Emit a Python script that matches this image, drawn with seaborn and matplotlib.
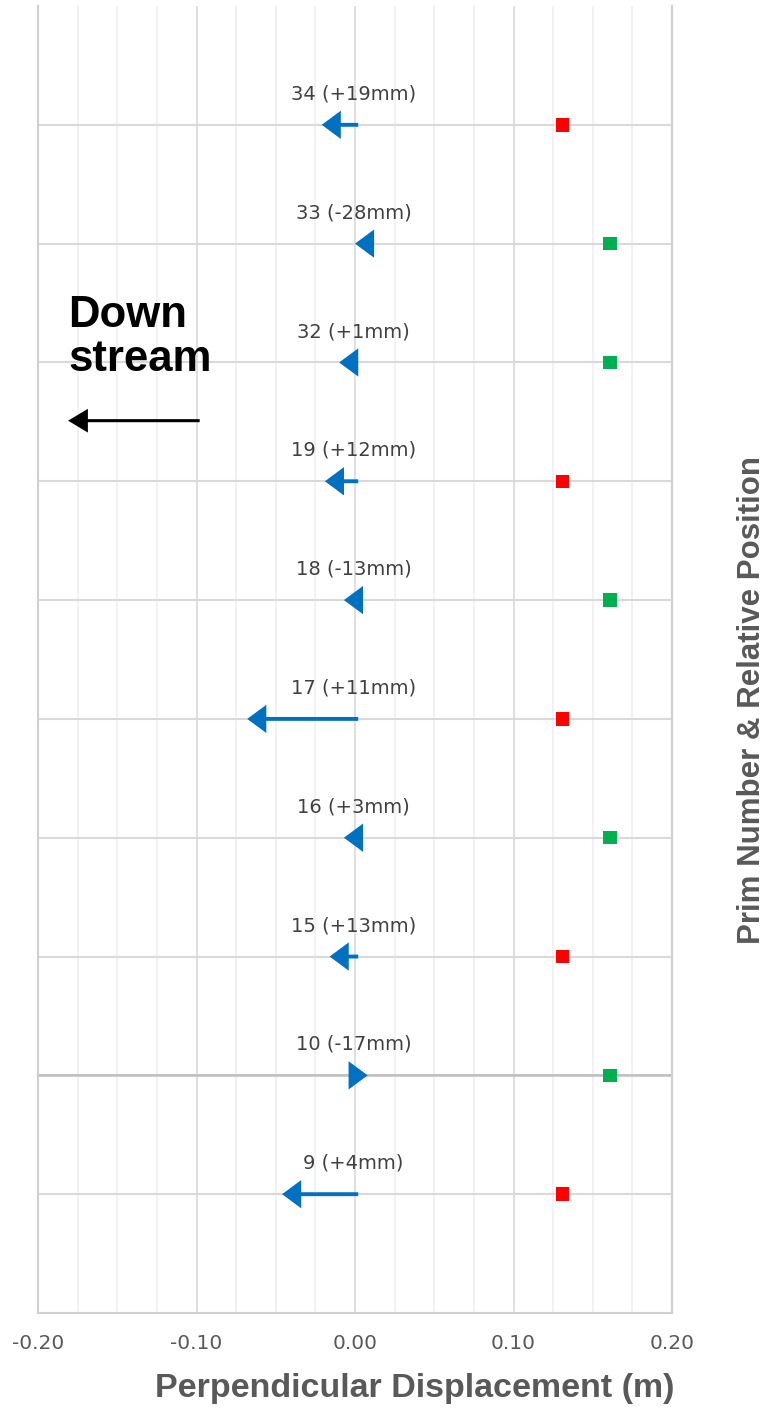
import matplotlib
matplotlib.use("Agg")
import matplotlib.pyplot as plt
from matplotlib.ticker import MultipleLocator
import pandas as pd
import seaborn as sns

# ─── Data ───────────────────────────────────────────────────────────────────
prims = [9, 10, 15, 16, 17, 18, 19, 32, 33, 34]
offsets_mm = ["+4", "-17", "+13", "+3", "+11", "-13", "+12", "+1", "-28", "+19"]
arrow_start = [0.002, -0.003, 0.002, 0.004, 0.002, 0.004, 0.002, 0.001, 0.011, 0.002]
arrow_end = [-0.046, 0.008, -0.016, -0.007, -0.068, -0.007, -0.019, -0.010, 0.000, -0.021]
marker_x = [0.131, 0.161, 0.131, 0.161, 0.131, 0.161, 0.131, 0.161, 0.161, 0.131]
marker_status = ["red", "green", "red", "green", "red", "green", "red", "green", "green", "red"]
x_ticks = [-0.20, -0.10, 0.00, 0.10, 0.20]
axis_cross_row = 2

BLUE = "#0070C0"
palette = {"red": "#FF0000", "green": "#00B050"}

df = pd.DataFrame({
    "prim": prims,
    "row": range(1, len(prims) + 1),
    "label": [f"{p} ({o}mm)" for p, o in zip(prims, offsets_mm)],
    "start": arrow_start,
    "end": arrow_end,
    "marker_x": marker_x,
    "status": marker_status,
})

sns.set_style("white")
plt.rcParams["font.family"] = ["DejaVu Sans"]

fig = plt.figure(figsize=(7.69, 14.09), dpi=100)
ax = fig.add_axes([38 / 769, 1 - 1313 / 1409, 634 / 769, 1307 / 1409])

ax.set_xlim(-0.2, 0.2)
ax.set_ylim(0, 11)
ax.xaxis.set_major_locator(MultipleLocator(0.1))
ax.xaxis.set_minor_locator(MultipleLocator(0.025))
ax.set_yticks(range(1, 11))
ax.set_yticklabels([])
ax.grid(which="minor", axis="x", color="#F0F0F0", lw=1.2)
ax.grid(which="major", axis="x", color="#DCDCDC", lw=1.3)
ax.grid(which="major", axis="y", color="#D9D9D9", lw=1.5)
ax.set_axisbelow(True)
ax.axhline(axis_cross_row, color="#BFBFBF", lw=1.8, zorder=1)

ax.set_xticks(x_ticks)
ax.set_xticklabels([f"{t:.2f}" for t in x_ticks])
ax.tick_params(axis="both", which="both", length=0)
ax.tick_params(axis="x", pad=15, labelsize=14.5, labelcolor="#595959")

for side in ["left", "right", "bottom"]:
    ax.spines[side].set_color("#D0D0D0")
    ax.spines[side].set_linewidth(1.5)
ax.spines["top"].set_visible(False)

# squares
sns.scatterplot(data=df, x="marker_x", y="row", hue="status", palette=palette,
                marker="s", s=95, linewidth=0, legend=False, ax=ax, zorder=4)

# displacement arrows + labels
for _, r in df.iterrows():
    ax.annotate("", xy=(r["end"], r["row"]), xytext=(r["start"], r["row"]),
                arrowprops=dict(arrowstyle="-|>,head_length=0.5,head_width=0.37",
                                mutation_scale=20, color=BLUE, lw=2.8,
                                joinstyle="miter", capstyle="butt",
                                shrinkA=0, shrinkB=0), zorder=5)
    ax.text(-0.001, r["row"] + 0.26, r["label"], ha="center", va="center",
            fontsize=14, color="#404040")

# "Down stream" note
ax.text(-0.181, 8.57, "Down\nstream", ha="left", va="top", fontsize=31.5,
        fontweight="bold", color="black", family=["Liberation Sans", "DejaVu Sans"],
        linespacing=1.1)
ax.annotate("", xy=(-0.181, 7.51), xytext=(-0.098, 7.51),
            arrowprops=dict(arrowstyle="-|>,head_length=0.55,head_width=0.33",
                            mutation_scale=20, color="black", lw=2.2,
                            joinstyle="miter", capstyle="butt",
                            shrinkA=0, shrinkB=0))

ax.set_xlabel("Perpendicular Displacement (m)", fontsize=24.5, fontweight="bold",
              color="#595959", family=["Liberation Sans", "DejaVu Sans"])
ax.xaxis.set_label_coords((415 - 38) / 634, (1313 - 1388) / 1307)
ax.xaxis.label.set_va("center")

ax.set_ylabel("Prim Number & Relative Position", fontsize=22.5, fontweight="bold",
              color="#595959", family=["Liberation Sans", "DejaVu Sans"])
ax.yaxis.set_label_coords((752 - 38) / 634, (1313 - 700) / 1307)
ax.yaxis.label.set_va("center")

fig.savefig("out.png", dpi=100)
